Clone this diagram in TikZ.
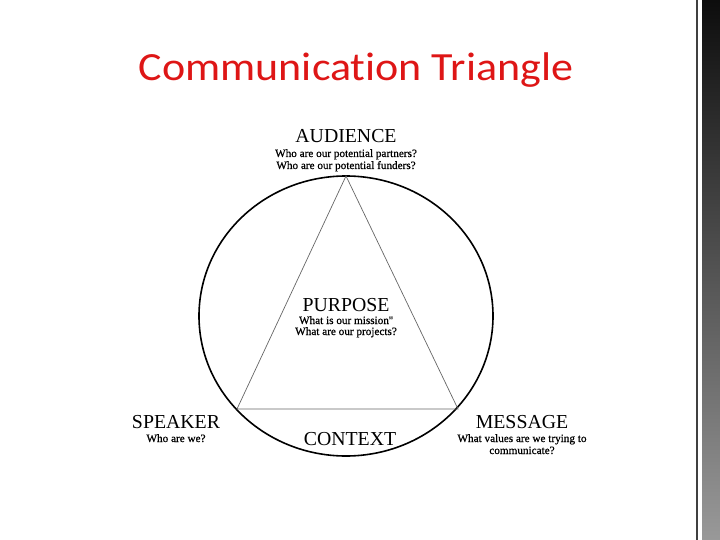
\documentclass[tikz,border=0pt]{standalone}
\usepackage{fontspec}
\setmainfont{Liberation Serif}
\newfontfamily\titlefont[Ligatures=NoCommon]{Carlito}
\newfontfamily\subfont[FakeBold=0.7]{Liberation Serif}
\definecolor{titlered}{RGB}{222,22,22}
\tikzset{
  head/.style={anchor=base, font=\fontsize{19.8}{22}\selectfont},
  sub/.style={anchor=base, font=\subfont\fontsize{11.2}{13}\selectfont},
}
\begin{document}
\begin{tikzpicture}[x=1pt, y=-1pt]
  \useasboundingbox (0,0) rectangle (720,540);
  % dark strip on the right edge
  \shade[top color=black!95, middle color=black!80, bottom color=black!40] (702,0) rectangle (720,540);
  \draw[black!75, line width=1.2pt] (697,0) -- (697,540);

  \node[anchor=base, text=titlered, font=\titlefont\fontsize{40}{46}\selectfont] (title) at (356,81) {\scalebox{1.1}[1]{Communication Triangle}};

  \draw[line width=1.6pt, fill=white] (346,316) ellipse [x radius=147, y radius=140];
  \coordinate (aud) at (346,176);
  \coordinate (spk) at (237,409);
  \coordinate (msg) at (458,409);
  \draw[black!60, line width=0.7pt] (aud) -- (spk) -- (msg) -- cycle;

  \node[head] (audience) at (346,143) {AUDIENCE};
  \node[sub] (partners) at (346,157) {Who are our potential partners?};
  \node[sub] (funders) at (346,169) {Who are our potential funders?};
  \node[head] (purpose) at (346,311) {PURPOSE};
  \node[sub] (mission) at (346,324) {What is our mission''};
  \node[sub] (projects) at (346,335) {What are our projects?};
  \node[head] (speaker) at (176,428) {SPEAKER};
  \node[sub] (who) at (176,442) {Who are we?};
  \node[head] (context) at (350,445) {CONTEXT};
  \node[head] (message) at (522,428) {MESSAGE};
  \node[sub] (values) at (522,442) {What values are we trying to};
  \node[sub] (communicate) at (522,454) {communicate?};
\end{tikzpicture}
\end{document}
